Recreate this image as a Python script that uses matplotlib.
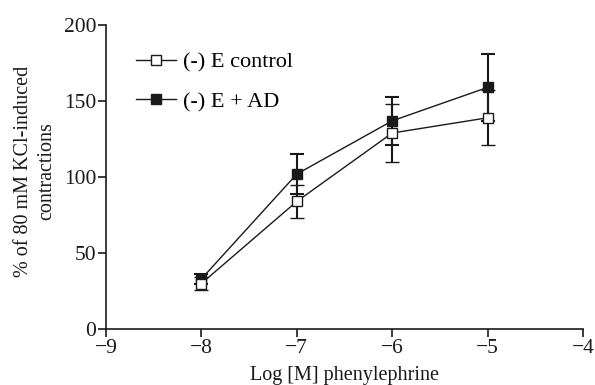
import numpy as np
import matplotlib.pyplot as plt
from matplotlib.lines import Line2D

plt.rcParams['font.family'] = ['Liberation Serif', 'DejaVu Serif']

log_conc = [-8, -7, -6, -5]

ctrl_mean = [30, 84, 129, 139]
ctrl_err = [4, 11, 19, 18]

ad_mean = [33, 102, 137, 159]
ad_err = [3, 13, 16, 22]

ink = '#1a1a1a'

fig = plt.figure(figsize=(5.95, 3.85), dpi=100)
ax = fig.add_axes([0.178, 0.145, 0.802, 0.79])

ax.errorbar(log_conc, ad_mean, yerr=ad_err, color=ink, lw=1.0,
            marker='s', ms=6.5, mfc=ink, mec=ink,
            capsize=5, capthick=1.5, elinewidth=1.5, zorder=3)
ax.errorbar(log_conc, ctrl_mean, yerr=ctrl_err, color=ink, lw=1.0,
            marker='s', ms=6.5, mfc='white', mec=ink, mew=1.0,
            capsize=5, capthick=1.5, elinewidth=1.5, zorder=4)

ax.set_xlim(-9, -4)
ax.set_ylim(0, 200)
ax.set_xticks([-9, -8, -7, -6, -5, -4])
ax.set_xticklabels(['\u22129', '\u22128', '\u22127', '\u22126', '\u22125', '\u22124'])
ax.set_yticks([0, 50, 100, 150, 200])

for s in ['top', 'right']:
    ax.spines[s].set_visible(False)
for s in ['left', 'bottom']:
    ax.spines[s].set_linewidth(1.2)
    ax.spines[s].set_color(ink)
ax.tick_params(direction='out', length=6, width=1.2, labelsize=15.5, colors=ink, pad=1)

ax.set_xlabel('Log [M] phenylephrine', fontsize=14.5, color=ink, labelpad=6)
ax.set_ylabel('% of 80 mM KCl-induced\ncontractions', fontsize=14.5, color=ink,
              linespacing=1.25)
ax.yaxis.set_label_coords(-0.105, 0.52)

handles = [Line2D([], [], color=ink, lw=1.0, marker='s', ms=6.5, mfc='white', mec=ink),
           Line2D([], [], color=ink, lw=1.0, marker='s', ms=6.5, mfc=ink, mec=ink)]
labels = ['(-) E control', '(-) E + AD']
ax.legend(handles, labels, loc='upper left', bbox_to_anchor=(0.045, 0.94),
          frameon=False, fontsize=16, handlelength=1.8, handletextpad=0.3,
          labelspacing=0.85, borderaxespad=0)

fig.savefig('out.png', dpi=100)
